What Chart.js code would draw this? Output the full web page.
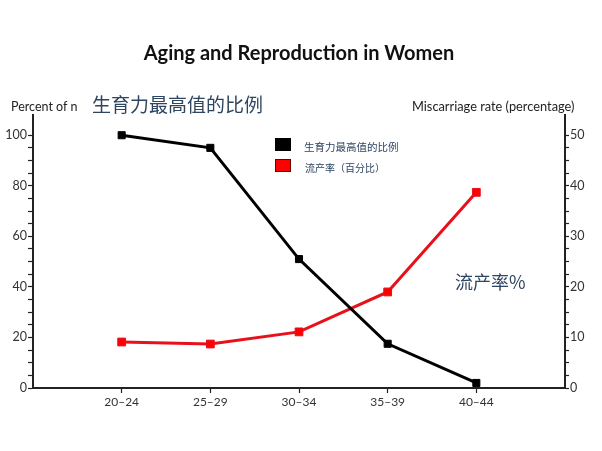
<!DOCTYPE html>
<html>
<head>
<meta charset="utf-8">
<script src="https://cdn.jsdelivr.net/npm/chart.js@4/dist/chart.umd.min.js"></script>
<style>
  html,body{margin:0;padding:0;background:#fff;}
  #wrap{position:relative;width:602px;height:451px;overflow:hidden;}
  #c{position:absolute;left:0;top:0;}
  .t{position:absolute;white-space:nowrap;line-height:1;}
  .title{left:0;width:598px;top:40px;text-align:center;font:bold 20px Lato,"Open Sans",sans-serif;color:#111;}
  .axl{font:12.5px Lato,"Open Sans",sans-serif;color:#222;}
  .cjk{font-family:"Noto Sans CJK SC",sans-serif;color:#2d4560;}
  .sw{position:absolute;width:16px;height:13px;}
</style>
</head>
<body>
<div id="wrap">
  <canvas id="c" width="602" height="451"></canvas>
  <div class="t title">Aging and Reproduction in Women</div>
  <div class="t axl" style="left:11px;top:99px;">Percent of n</div>
  <div class="t cjk" style="left:92px;top:94px;font-size:19px;">生育力最高值的比例</div>
  <div class="t axl" style="left:412px;top:98px;font-size:12.8px;">Miscarriage rate (percentage)</div>
  <div class="sw" style="left:275px;top:138px;background:#000;"></div>
  <div class="t cjk" style="left:304px;top:142px;font-size:10.5px;">生育力最高值的比例</div>
  <div class="sw" style="left:275px;top:159px;background:#f00;box-shadow:inset 0 0 0 1px #6a0000;"></div>
  <div class="t cjk" style="left:305px;top:163px;font-size:10px;">流产率（百分比）</div>
  <div class="t cjk" style="left:455px;top:272px;font-size:18px;">流产率%</div>
</div>
<script>
  // age groups and values
  const AGE_GROUPS = ['20–24', '25–29', '30–34', '35–39', '40–44'];
  const FERTILITY = [100, 95, 51, 17.5, 2];       // % of peak fertility (left axis)
  const MISCARRIAGE = [9.1, 8.7, 11.1, 19, 38.7]; // miscarriage rate % (right axis)
  const LEFT_LABELS = [0, 20, 40, 60, 80, 100];
  const RIGHT_LABELS = [0, 10, 20, 30, 40, 50];

  const tickFont = {family: 'Lato, "Open Sans", sans-serif', size: 12.5};
  const pts = arr => arr.map((v, i) => ({x: i, y: v}));
  const stepTicks = (max, step) => { const a = []; for (let v = 0; v <= max + 1e-9; v += step) a.push({value: v}); return a; };

  new Chart(document.getElementById('c'), {
    type: 'line',
    data: {
      datasets: [
        { label: '生育力最高值的比例', data: pts(FERTILITY), yAxisID: 'yL',
          borderColor: '#000', backgroundColor: '#000', borderWidth: 3,
          pointStyle: 'rect', pointRadius: 5, pointHoverRadius: 5, pointBorderWidth: 1, tension: 0 },
        { label: '流产率（百分比）', data: pts(MISCARRIAGE), yAxisID: 'yR',
          borderColor: '#e8101a', backgroundColor: '#f00', borderWidth: 3,
          pointStyle: 'rect', pointRadius: 5.5, pointHoverRadius: 5.5, pointBorderWidth: 1, tension: 0 }
      ]
    },
    options: {
      responsive: false, animation: false,
      layout: {padding: {top: 115, left: 0, right: 0, bottom: 0}},
      plugins: {legend: {display: false}, tooltip: {enabled: false}, title: {display: false}},
      scales: {
        x: {
          type: 'linear', min: -1, max: 5,
          afterBuildTicks: s => { s.ticks = AGE_GROUPS.map((_, i) => ({value: i})); },
          afterFit: s => { s.height = 63; },
          ticks: {callback: v => AGE_GROUPS[v] ?? '', font: {family: tickFont.family, size: 12}, color: '#333', padding: 2, maxRotation: 0},
          grid: {drawOnChartArea: false, tickLength: 5, color: '#222', tickWidth: 1.2},
          border: {color: '#222', width: 2}
        },
        yL: {
          position: 'left', min: 0, max: 108,
          afterBuildTicks: s => { s.ticks = stepTicks(100, 5); },
          afterFit: s => { s.width = 33; },
          ticks: {callback: v => LEFT_LABELS.includes(v) ? v : '', font: tickFont, color: '#333', padding: 1, autoSkip: false},
          grid: {drawOnChartArea: false, tickLength: 5, color: '#222', tickWidth: 1.2},
          border: {color: '#222', width: 2}
        },
        yR: {
          position: 'right', min: 0, max: 54,
          afterBuildTicks: s => { s.ticks = stepTicks(50, 2.5); },
          afterFit: s => { s.width = 37; },
          ticks: {callback: v => RIGHT_LABELS.includes(v) ? v : '', font: tickFont, color: '#333', padding: 1, autoSkip: false},
          grid: {drawOnChartArea: false, tickLength: 4, color: '#222', tickWidth: 1.2},
          border: {color: '#222', width: 2}
        }
      }
    }
  });
</script>
</body>
</html>
